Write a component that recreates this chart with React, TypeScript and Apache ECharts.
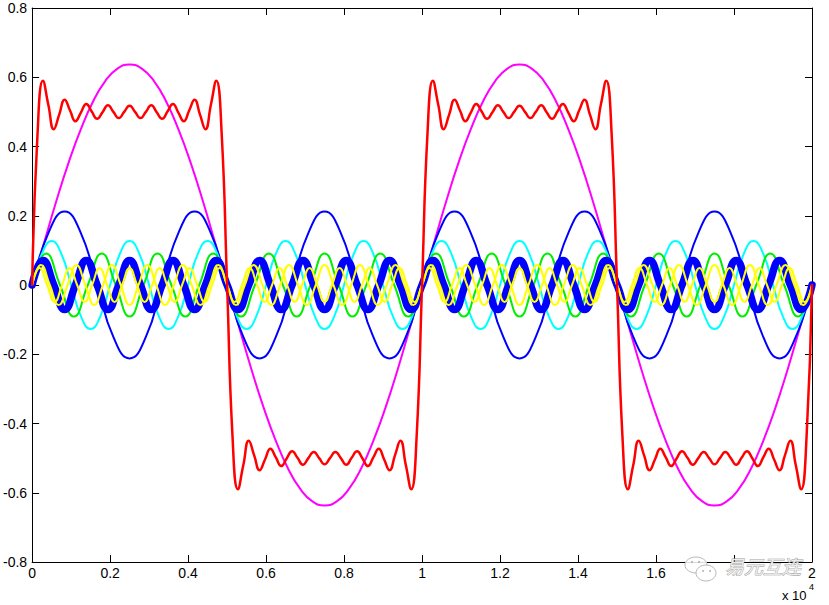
import React, { useEffect, useRef } from "react";
import * as echarts from "echarts";

// x range of the data (axis shown in units of 10^4)
const X_MAX = 20000;
const xTickLabels = ["0", "0.2", "0.4", "0.6", "0.8", "1", "1.2", "1.4", "1.6", "1.8", "2"];
// the 1.8 label is hidden under the watermark in the reference
const xHiddenLabels = ["1.8"];
const yTickLabels = ["-0.8", "-0.6", "-0.4", "-0.2", "0", "0.2", "0.4", "0.6", "0.8"];

// harmonic 1 (magenta), sampled every 1/32 period
const harmonic1 = [
  0, 0.124, 0.244, 0.354, 0.45, 0.53, 0.589, 0.625, 0.637, 0.625, 0.589, 0.53, 0.45, 0.354, 0.244, 0.124,
  0, -0.124, -0.244, -0.354, -0.45, -0.53, -0.589, -0.625, -0.637, -0.625, -0.589, -0.53, -0.45, -0.354, -0.244, -0.124,
  0, 0.124, 0.244, 0.354, 0.45, 0.53, 0.589, 0.625, 0.637, 0.625, 0.589, 0.53, 0.45, 0.354, 0.244, 0.124,
  0, -0.124, -0.244, -0.354, -0.45, -0.53, -0.589, -0.625, -0.637, -0.625, -0.589, -0.53, -0.45, -0.354, -0.244, -0.124,
  0,
];

// harmonic 3 (blue), every 1/8 period
const harmonic3 = [
  0, 0.15, 0.212, 0.15, 0, -0.15, -0.212, -0.15,
  0, 0.15, 0.212, 0.15, 0, -0.15, -0.212, -0.15,
  0, 0.15, 0.212, 0.15, 0, -0.15, -0.212, -0.15,
  0, 0.15, 0.212, 0.15, 0, -0.15, -0.212, -0.15,
  0, 0.15, 0.212, 0.15, 0, -0.15, -0.212, -0.15,
  0, 0.15, 0.212, 0.15, 0, -0.15, -0.212, -0.15,
  0,
];

// harmonic 5 (cyan), every 1/8 period
const harmonic5 = [
  0, 0.09, 0.127, 0.09, 0, -0.09, -0.127, -0.09,
  0, 0.09, 0.127, 0.09, 0, -0.09, -0.127, -0.09,
  0, 0.09, 0.127, 0.09, 0, -0.09, -0.127, -0.09,
  0, 0.09, 0.127, 0.09, 0, -0.09, -0.127, -0.09,
  0, 0.09, 0.127, 0.09, 0, -0.09, -0.127, -0.09,
  0, 0.09, 0.127, 0.09, 0, -0.09, -0.127, -0.09,
  0, 0.09, 0.127, 0.09, 0, -0.09, -0.127, -0.09,
  0, 0.09, 0.127, 0.09, 0, -0.09, -0.127, -0.09,
  0, 0.09, 0.127, 0.09, 0, -0.09, -0.127, -0.09,
  0, 0.09, 0.127, 0.09, 0, -0.09, -0.127, -0.09,
  0,
];

// harmonic 7 (green), every 1/4 period
const harmonic7 = [
  0, 0.091, 0, -0.091, 0, 0.091, 0, -0.091,
  0, 0.091, 0, -0.091, 0, 0.091, 0, -0.091,
  0, 0.091, 0, -0.091, 0, 0.091, 0, -0.091,
  0, 0.091, 0, -0.091, 0, 0.091, 0, -0.091,
  0, 0.091, 0, -0.091, 0, 0.091, 0, -0.091,
  0, 0.091, 0, -0.091, 0, 0.091, 0, -0.091,
  0, 0.091, 0, -0.091, 0, 0.091, 0, -0.091,
  0,
];

// harmonic 9 (thick blue), every 1/4 period
const harmonic9 = [
  0, 0.071, 0, -0.071, 0, 0.071, 0, -0.071,
  0, 0.071, 0, -0.071, 0, 0.071, 0, -0.071,
  0, 0.071, 0, -0.071, 0, 0.071, 0, -0.071,
  0, 0.071, 0, -0.071, 0, 0.071, 0, -0.071,
  0, 0.071, 0, -0.071, 0, 0.071, 0, -0.071,
  0, 0.071, 0, -0.071, 0, 0.071, 0, -0.071,
  0, 0.071, 0, -0.071, 0, 0.071, 0, -0.071,
  0, 0.071, 0, -0.071, 0, 0.071, 0, -0.071,
  0, 0.071, 0, -0.071, 0, 0.071, 0, -0.071,
  0,
];

// harmonic 11 (yellow), every 1/4 period
const harmonic11 = [
  0, 0.058, 0, -0.058, 0, 0.058, 0, -0.058,
  0, 0.058, 0, -0.058, 0, 0.058, 0, -0.058,
  0, 0.058, 0, -0.058, 0, 0.058, 0, -0.058,
  0, 0.058, 0, -0.058, 0, 0.058, 0, -0.058,
  0, 0.058, 0, -0.058, 0, 0.058, 0, -0.058,
  0, 0.058, 0, -0.058, 0, 0.058, 0, -0.058,
  0, 0.058, 0, -0.058, 0, 0.058, 0, -0.058,
  0, 0.058, 0, -0.058, 0, 0.058, 0, -0.058,
  0, 0.058, 0, -0.058, 0, 0.058, 0, -0.058,
  0, 0.058, 0, -0.058, 0, 0.058, 0, -0.058,
  0, 0.058, 0, -0.058, 0, 0.058, 0, -0.058,
  0,
];

// harmonic 13 (yellow), every 1/4 period
const harmonic13 = [
  0, 0.049, 0, -0.049, 0, 0.049, 0, -0.049,
  0, 0.049, 0, -0.049, 0, 0.049, 0, -0.049,
  0, 0.049, 0, -0.049, 0, 0.049, 0, -0.049,
  0, 0.049, 0, -0.049, 0, 0.049, 0, -0.049,
  0, 0.049, 0, -0.049, 0, 0.049, 0, -0.049,
  0, 0.049, 0, -0.049, 0, 0.049, 0, -0.049,
  0, 0.049, 0, -0.049, 0, 0.049, 0, -0.049,
  0, 0.049, 0, -0.049, 0, 0.049, 0, -0.049,
  0, 0.049, 0, -0.049, 0, 0.049, 0, -0.049,
  0, 0.049, 0, -0.049, 0, 0.049, 0, -0.049,
  0, 0.049, 0, -0.049, 0, 0.049, 0, -0.049,
  0, 0.049, 0, -0.049, 0, 0.049, 0, -0.049,
  0, 0.049, 0, -0.049, 0, 0.049, 0, -0.049,
  0,
];

// partial sum (red), sampled every 1/72 period
const partialSum = [
  0, 0.437, 0.59, 0.52, 0.45, 0.492, 0.535, 0.504, 0.473, 0.498, 0.523, 0.501,
  0.48, 0.499, 0.519, 0.5, 0.482, 0.5, 0.518, 0.5, 0.482, 0.5, 0.519, 0.499,
  0.48, 0.501, 0.523, 0.498, 0.473, 0.504, 0.535, 0.492, 0.45, 0.52, 0.59, 0.437,
  0, -0.437, -0.59, -0.52, -0.45, -0.492, -0.535, -0.504, -0.473, -0.498, -0.523, -0.501,
  -0.48, -0.499, -0.519, -0.5, -0.482, -0.5, -0.518, -0.5, -0.482, -0.5, -0.519, -0.499,
  -0.48, -0.501, -0.523, -0.498, -0.473, -0.504, -0.535, -0.492, -0.45, -0.52, -0.59, -0.437,
  0, 0.437, 0.59, 0.52, 0.45, 0.492, 0.535, 0.504, 0.473, 0.498, 0.523, 0.501,
  0.48, 0.499, 0.519, 0.5, 0.482, 0.5, 0.518, 0.5, 0.482, 0.5, 0.519, 0.499,
  0.48, 0.501, 0.523, 0.498, 0.473, 0.504, 0.535, 0.492, 0.45, 0.52, 0.59, 0.437,
  0, -0.437, -0.59, -0.52, -0.45, -0.492, -0.535, -0.504, -0.473, -0.498, -0.523, -0.501,
  -0.48, -0.499, -0.519, -0.5, -0.482, -0.5, -0.518, -0.5, -0.482, -0.5, -0.519, -0.499,
  -0.48, -0.501, -0.523, -0.498, -0.473, -0.504, -0.535, -0.492, -0.45, -0.52, -0.59, -0.437,
  0,
];

const seriesStyles = [
  { name: "1", data: harmonic1, color: "#ff00ff", width: 2 },
  { name: "3", data: harmonic3, color: "#0000ff", width: 2 },
  { name: "5", data: harmonic5, color: "#00ffff", width: 2 },
  { name: "7", data: harmonic7, color: "#00ee00", width: 2 },
  { name: "9", data: harmonic9, color: "#0000ff", width: 7.5 },
  { name: "11", data: harmonic11, color: "#ffff00", width: 2 },
  { name: "13", data: harmonic13, color: "#ffff00", width: 2 },
  { name: "sum", data: partialSum, color: "#ff0000", width: 2.5 },
];

const toPairs = (ys: number[]) => ys.map((y, i) => [(i * X_MAX) / (ys.length - 1), y]);

const FONT = '"Liberation Sans", Arial, sans-serif';

export default function App() {
  const ref = useRef<HTMLDivElement>(null);
  useEffect(() => {
    const chart = echarts.init(ref.current!, null, { renderer: "svg" });
    const axisLine = { show: true, onZero: false, lineStyle: { color: "#000", width: 1 } };
    const tick = { show: true, inside: true, length: 7, lineStyle: { color: "#000", width: 1 } };
    const xBase = { type: "value", min: 0, max: X_MAX, interval: 2000, splitLine: { show: false }, axisLine, axisTick: tick };
    const yBase = { type: "value", min: -0.8, max: 0.8, interval: 0.2, splitLine: { show: false }, axisLine, axisTick: tick };
    chart.setOption({
      animation: false,
      backgroundColor: "#fff",
      grid: { left: 31, right: 17, top: 8, bottom: 43, containLabel: false },
      xAxis: [
        {
          ...xBase,
          position: "bottom",
          axisLabel: {
            show: true, color: "#000", fontSize: 14, fontFamily: FONT, margin: 4,
            showMinLabel: true, showMaxLabel: true,
            formatter: (v: number) => {
              const s = xTickLabels[Math.round(v / 2000)] ?? "";
              return xHiddenLabels.includes(s) ? "" : s;
            },
          },
        },
        { ...xBase, position: "top", axisLabel: { show: false } },
      ],
      yAxis: [
        {
          ...yBase,
          position: "left",
          axisLabel: {
            show: true, color: "#000", fontSize: 14, fontFamily: FONT, margin: 5,
            showMinLabel: true, showMaxLabel: true,
            formatter: (v: number) => yTickLabels[Math.round((v + 0.8) / 0.2)] ?? "",
          },
        },
        { ...yBase, position: "right", axisLabel: { show: false } },
      ],
      series: seriesStyles.map((s) => ({
        name: s.name,
        type: "line",
        xAxisIndex: 0,
        yAxisIndex: 0,
        data: toPairs(s.data),
        smooth: true,
        showSymbol: false,
        symbol: "none",
        lineStyle: { color: s.color, width: s.width, cap: "round", join: "round" },
        silent: true,
      })),
      graphic: [
        { type: "text", x: 782, y: 595, z: 100, style: { text: "x 10", font: `13px ${FONT}`, fill: "#000", verticalAlign: "middle", align: "left" } },
        { type: "text", x: 809, y: 587, z: 100, style: { text: "4", font: `9px ${FONT}`, fill: "#000", verticalAlign: "middle", align: "left" } },
        { type: "ellipse", z: 100, shape: { cx: 696, cy: 565, rx: 11, ry: 8 }, style: { fill: "rgba(255,255,255,0.85)", stroke: "#b8b8b8", lineWidth: 1 } },
        { type: "ellipse", z: 101, shape: { cx: 706, cy: 573, rx: 10, ry: 8 }, style: { fill: "rgba(255,255,255,0.9)", stroke: "#b8b8b8", lineWidth: 1 } },
        { type: "circle", z: 102, shape: { cx: 692, cy: 562, r: 1.2 }, style: { fill: "#b8b8b8" } },
        { type: "circle", z: 102, shape: { cx: 699, cy: 562, r: 1.2 }, style: { fill: "#b8b8b8" } },
        { type: "circle", z: 102, shape: { cx: 703, cy: 571, r: 1 }, style: { fill: "#b8b8b8" } },
        { type: "circle", z: 102, shape: { cx: 710, cy: 571, r: 1 }, style: { fill: "#b8b8b8" } },
        {
          type: "text", x: 725, y: 565, z: 100,
          style: {
            text: "易元互连", font: `italic 19px "Noto Sans CJK SC", sans-serif`,
            fill: "#ececec", stroke: "#9a9a9a", lineWidth: 0.8, verticalAlign: "middle", align: "left",
          },
        },
      ],
    });
    return () => chart.dispose();
  }, []);
  return (
    <div
      ref={ref}
      style={{ position: "fixed", left: 0, top: 0, width: 829, height: 605, background: "#fff" }}
    />
  );
}
